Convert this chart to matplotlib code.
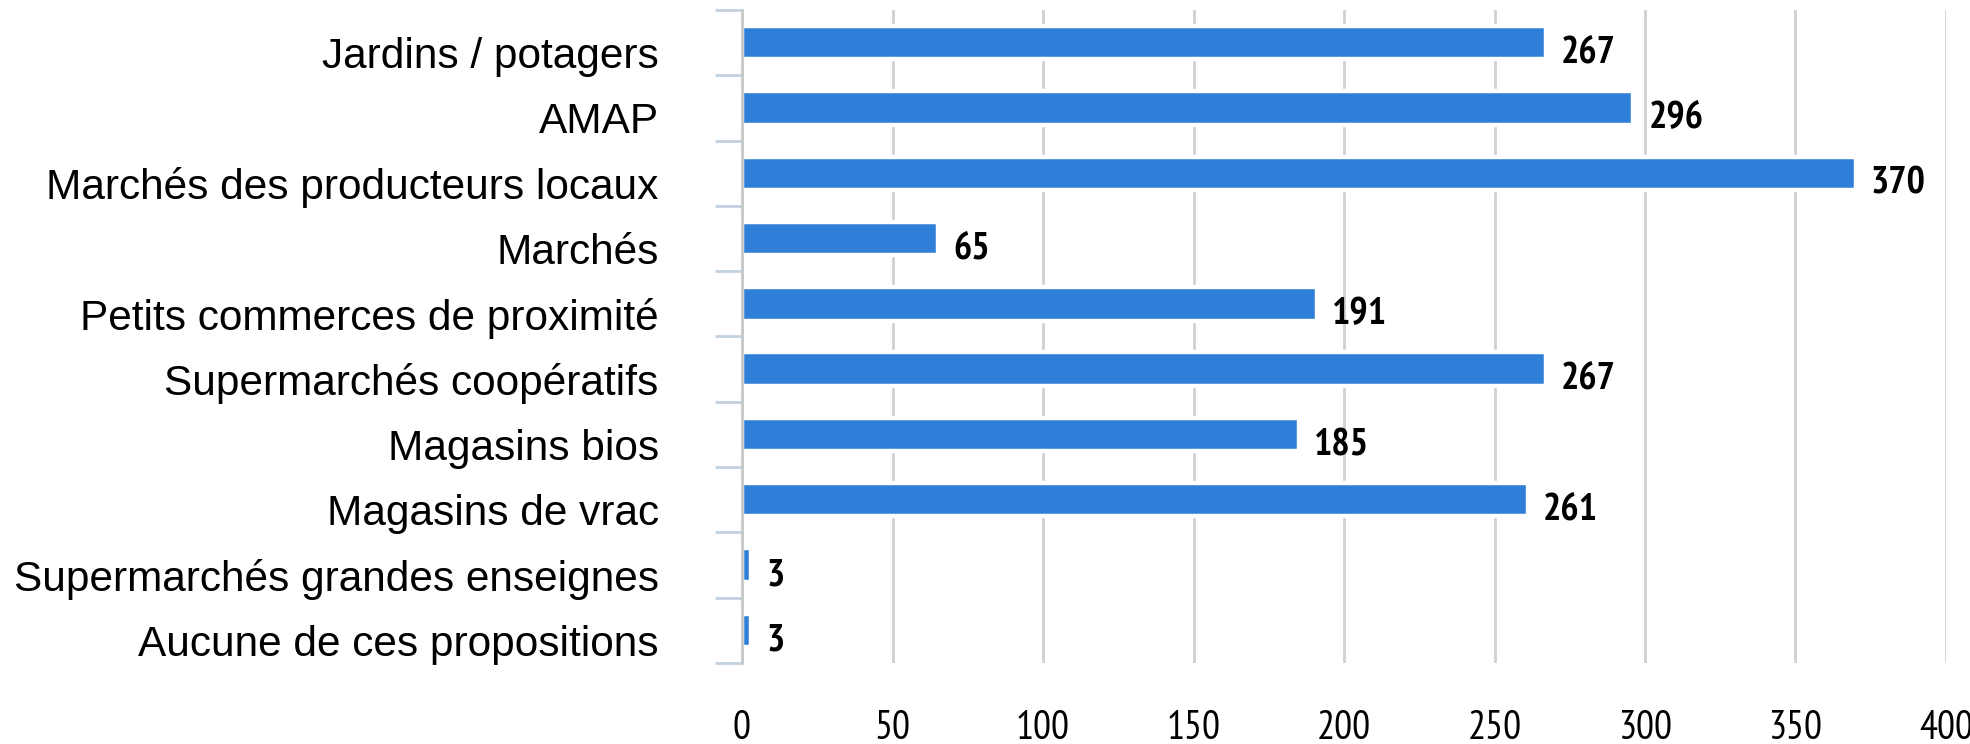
import matplotlib
matplotlib.use("Agg")
import matplotlib.pyplot as plt
import matplotlib.transforms as mtransforms
from matplotlib import font_manager
import numpy as np


categories = ["Jardins / potagers", "AMAP", "Marchés des producteurs locaux", "Marchés",
              "Petits commerces de proximité", "Supermarchés coopératifs", "Magasins bios",
              "Magasins de vrac", "Supermarchés grandes enseignes", "Aucune de ces propositions"]
values = [267, 296, 370, 65, 191, 267, 185, 261, 3, 3]
x_ticks = [0, 50, 100, 150, 200, 250, 300, 350, 400]

bar_color = "#2f7ed8"
regular = ["Liberation Sans", "DejaVu Sans"]


def poids(f):
    w = f.weight
    if isinstance(w, str):
        w = font_manager.weight_dict.get(w, 400)
    return w


# police etroite avec gras pour les chiffres (Arial Narrow dans l'original)
graisses = {}
for f in font_manager.fontManager.ttflist:
    graisses.setdefault(f.name, set()).add(poids(f))

narrow = "Liberation Sans"
for nom in ["Liberation Sans Narrow", "Arial Narrow", "PT Sans Narrow", "Fira Sans Condensed",
            "IBM Plex Sans Condensed", "Roboto Condensed", "Encode Sans Condensed",
            "Asap Condensed", "Archivo Narrow"]:
    if nom in graisses and max(graisses[nom]) >= 600 and min(graisses[nom]) <= 500:
        narrow = nom
        break

fig = plt.figure(figsize=(19.7, 7.44), dpi=100)
renderer = fig.canvas.get_renderer()


def taille_pour(texte, largeur_px, **kw):
    t = fig.text(0, 0, texte, fontsize=100, family=[narrow, "DejaVu Sans"], **kw)
    w = t.get_window_extent(renderer).width
    t.remove()
    return 100 * largeur_px / w


taille_ticks = taille_pour("100", 54)
taille_valeurs = taille_pour("370", 55, fontweight="bold")

ax = fig.add_axes([742 / 1970, 81 / 744, (1946 - 742) / 1970, 653 / 744])

y = np.arange(len(categories))
ax.barh(y, values, height=0.51, color=bar_color, edgecolor="white", linewidth=3.2, zorder=3)

ax.set_xlim(0, 400)
ax.set_ylim(len(categories) - 0.5, -0.5)

# grille verticale
ax.set_xticks(x_ticks)
ax.set_xticklabels([str(t) for t in x_ticks], family=[narrow, "DejaVu Sans"], fontsize=taille_ticks)
ax.tick_params(axis="x", length=0, pad=34)
ax.grid(axis="x", color="#d0d0d0", linewidth=2, zorder=0)

for s in ["top", "right", "bottom"]:
    ax.spines[s].set_visible(False)
ax.spines["left"].set_color("#c8c8c8")
ax.spines["left"].set_linewidth(2)
ax.spines["left"].set_zorder(4)

# categories
ax.set_yticks(y)
ax.set_yticklabels(categories, family=regular, fontsize=30.5)
ax.tick_params(axis="y", which="major", length=0, pad=60)
ax.set_yticks(np.arange(-0.5, len(categories), 1), minor=True)
ax.tick_params(axis="y", which="minor", length=19.4, width=2, color="#c3d0e0")

decal = mtransforms.ScaledTranslation(0, -10 / 100, fig.dpi_scale_trans)
for lbl in ax.get_yticklabels():
    lbl.set_transform(lbl.get_transform() + decal)

# valeurs
for i, v in enumerate(values):
    ax.annotate(str(v), xy=(v, i), xytext=(11, -8), textcoords="offset points",
                va="center", ha="left", fontsize=taille_valeurs, fontweight="bold",
                family=[narrow, "DejaVu Sans"])

fig.savefig("out.png", dpi=100)
